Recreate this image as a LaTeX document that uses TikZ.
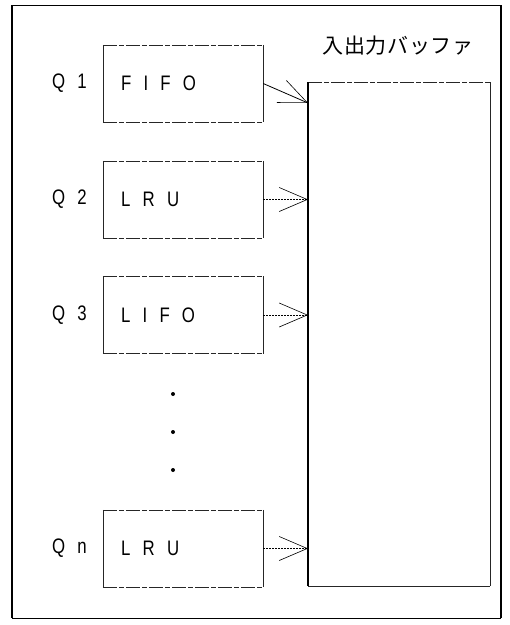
\documentclass[tikz,border=0pt]{standalone}
\usepackage{fontspec}
\setmainfont{Liberation Sans}
\newfontfamily\latinsp[LetterSpace=58,FakeStretch=0.8]{Liberation Sans}
\newfontfamily\jpfont[LetterSpace=3]{Noto Sans CJK JP}
\usetikzlibrary{arrows.meta}
\tikzset{
  lbl/.style={font=\latinsp\fontsize{21}{21}\selectfont, inner sep=0pt},
  qbox/.style={draw=none, minimum width=160pt, minimum height=77pt, inner sep=0pt},
  hedge/.style={line width=0.6pt, black!85, dash pattern=on 14pt off 2pt on 5pt off 2pt},
  vedge/.style={line width=0.6pt, black!85},
  arr/.style={line width=0.6pt, -{Straight Barb[length=28pt,width=24pt,line width=0.6pt]}},
  dotshaft/.style={arr, dash pattern=on 2pt off 1pt},
}
\begin{document}
\begin{tikzpicture}[x=1pt,y=-1pt]
\useasboundingbox (0,0) rectangle (510,625);
% outer frame
\draw[line width=1pt] (12,5) -- (501,5);
\draw[line width=1.3pt] (12,5) -- (12,618);
\draw[line width=1.3pt] (501,5) -- (501,618);
\draw[line width=0.8pt] (12,618) -- (501,618);

% title
\node[font=\jpfont\fontsize{21}{21}\selectfont, inner sep=0pt] (title) at (398,46) {入出力バッファ};

% buffer
\node[draw=none, minimum width=182pt, minimum height=504pt, inner sep=0pt, anchor=north west] (buf) at (308,82) {};
\draw[hedge] (buf.north west) -- (buf.north east);
\draw[line width=1.2pt] (buf.north west) -- (buf.south west);
\draw[vedge] (buf.north east) -- (buf.south east);
\draw[vedge] (buf.south west) -- (buf.south east);

% queue boxes
\foreach \n/\cy/\txt/\q in {b1/83.5/FIFO/Q1, b2/199.5/LRU/Q2, b3/315/LIFO/Q3, bn/548.5/LRU/Qn}{
  \node[qbox] (\n) at (183,\cy) {};
  \draw[hedge] (\n.north west) -- (\n.north east);
  \draw[hedge] (\n.south west) -- (\n.south east);
  \draw[vedge] (\n.north west) -- (\n.south west);
  \draw[vedge] (\n.north east) -- (\n.south east);
  \node[lbl, anchor=west] (\n t) at (121,\cy) {\txt};
  \node[lbl, anchor=west] (\n q) at (52,\cy) {\q};
}

% dots
\foreach \i/\y in {1/394,2/432,3/470}{
  \node[circle, fill=black, inner sep=0pt, minimum size=4pt] (dot\i) at (173,\y) {};
}

% arrows
\coordinate (t1) at (308,103);
\draw[arr, line width=0.8pt] (b1.east) -- (t1);
\draw[dotshaft] (b2.east) -- (b2.east -| buf.west);
\draw[dotshaft] (b3.east) -- (b3.east -| buf.west);
\draw[dotshaft] (bn.east) -- (bn.east -| buf.west);
\end{tikzpicture}
\end{document}
